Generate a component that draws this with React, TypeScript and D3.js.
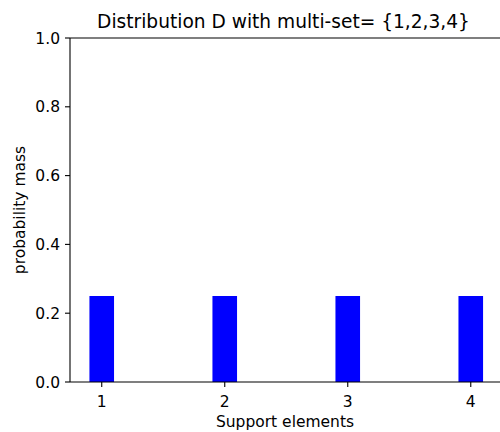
import React from "react";
import * as d3 from "d3";

const categories = [1, 2, 3, 4];
const probabilities = [0.25, 0.25, 0.25, 0.25];
const yTicks = [0.0, 0.2, 0.4, 0.6, 0.8, 1.0];
const title = "Distribution D with multi-set= {1,2,3,4}";

export default function App() {
  const W = 500, H = 432;
  const left = 70, right = 502.5, top = 38, bottom = 382;
  const x = d3.scaleLinear().domain([0.742, 4.258]).range([left, right]);
  const y = d3.scaleLinear().domain([0, 1]).range([bottom, top]);
  const bw = 0.2;
  const font = "DejaVu Sans, sans-serif";
  const cx = 285;
  return (
    <svg width={W} height={H} style={{ position: "fixed", left: 0, top: 0, background: "#fff" }} fontFamily={font}>
      <rect x={0} y={0} width={W} height={H} fill="#fff" />
      {categories.map((c, i) => (
        <rect key={c} x={x(c - bw / 2)} y={y(probabilities[i])} width={x(c + bw / 2) - x(c - bw / 2)} height={y(0) - y(probabilities[i])} fill="#0000ff" />
      ))}
      <line x1={left} x2={W} y1={top} y2={top} stroke="#000" strokeWidth={1.1} />
      <line x1={left} x2={W} y1={bottom} y2={bottom} stroke="#000" strokeWidth={1.1} />
      <line x1={left} x2={left} y1={top} y2={bottom} stroke="#000" strokeWidth={1.1} />
      {yTicks.map((t) => (
        <g key={t}>
          <line x1={left - 5} x2={left} y1={y(t)} y2={y(t)} stroke="#000" strokeWidth={1.1} />
          <text x={left - 10} y={y(t)} dy="0.36em" textAnchor="end" fontSize={15.5} fill="#000">{t.toFixed(1)}</text>
        </g>
      ))}
      {categories.map((c) => (
        <g key={c}>
          <line x1={x(c)} x2={x(c)} y1={bottom} y2={bottom + 5} stroke="#000" strokeWidth={1.1} />
          <text x={x(c)} y={406.5} textAnchor="middle" fontSize={15.5} fill="#000">{c}</text>
        </g>
      ))}
      <text x={cx} y={426.5} textAnchor="middle" fontSize={15.5} fill="#000">Support elements</text>
      <text transform={`translate(25,${(top + bottom) / 2}) rotate(-90)`} textAnchor="middle" fontSize={15.5} fill="#000">probability mass</text>
      <text x={cx - 1.5} y={28} textAnchor="middle" fontSize={18.6} fill="#000">{title}</text>
    </svg>
  );
}
